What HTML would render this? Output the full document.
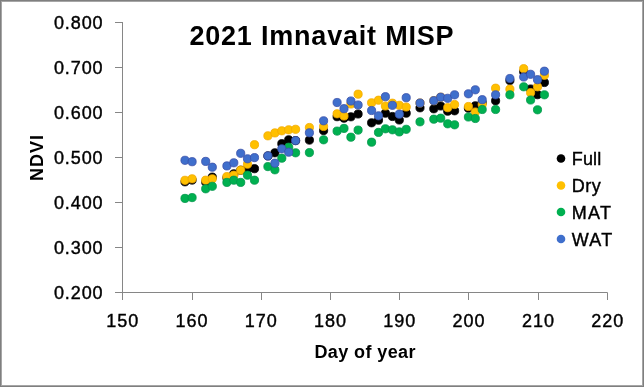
<!DOCTYPE html>
<html><head><meta charset="utf-8"><style>
html,body{margin:0;padding:0;background:#fff;}
body{width:644px;height:387px;overflow:hidden;position:relative;font-family:"Liberation Sans",sans-serif;}
svg{position:absolute;left:0;top:0;will-change:transform;}
text{font-family:"Liberation Sans",sans-serif;}
</style></head><body>
<svg width="644" height="387" viewBox="0 0 644 387">
<rect x="0" y="0" width="644" height="387" fill="#fff"/>
<rect x="0.5" y="0.5" width="643" height="386" fill="none" stroke="#7f7f7f" stroke-width="1"/>
<rect x="1.5" y="1.5" width="641" height="384" fill="none" stroke="#a6a6a6" stroke-width="1"/>
<g stroke="#868686" stroke-width="1" fill="none">
<line x1="122.5" y1="22" x2="122.5" y2="292.5"/>
<line x1="122" y1="292.5" x2="607.5" y2="292.5"/>
<line x1="115" y1="22.5" x2="122.5" y2="22.5"/><line x1="115" y1="67.5" x2="122.5" y2="67.5"/><line x1="115" y1="112.5" x2="122.5" y2="112.5"/><line x1="115" y1="157.5" x2="122.5" y2="157.5"/><line x1="115" y1="202.5" x2="122.5" y2="202.5"/><line x1="115" y1="247.5" x2="122.5" y2="247.5"/><line x1="115" y1="292.5" x2="122.5" y2="292.5"/><line x1="122.5" y1="292.5" x2="122.5" y2="300"/><line x1="192.5" y1="292.5" x2="192.5" y2="300"/><line x1="261.5" y1="292.5" x2="261.5" y2="300"/><line x1="330.5" y1="292.5" x2="330.5" y2="300"/><line x1="399.5" y1="292.5" x2="399.5" y2="300"/><line x1="468.5" y1="292.5" x2="468.5" y2="300"/><line x1="538.5" y1="292.5" x2="538.5" y2="300"/><line x1="607.5" y1="292.5" x2="607.5" y2="300"/>
</g>
<g font-size="18" fill="#000" text-anchor="end" letter-spacing="0.9" stroke="#000" stroke-width="0.4"><text x="103.5" y="29.0">0.800</text><text x="103.5" y="74.0">0.700</text><text x="103.5" y="119.0">0.600</text><text x="103.5" y="164.0">0.500</text><text x="103.5" y="209.0">0.400</text><text x="103.5" y="254.0">0.300</text><text x="103.5" y="299.0">0.200</text></g>
<g font-size="18" fill="#000" text-anchor="middle" letter-spacing="1.0" stroke="#000" stroke-width="0.4"><text x="122.7" y="327">150</text><text x="192.0" y="327">160</text><text x="261.3" y="327">170</text><text x="330.6" y="327">180</text><text x="399.8" y="327">190</text><text x="469.1" y="327">200</text><text x="538.4" y="327">210</text><text x="607.7" y="327">220</text></g>
<text x="321.9" y="45" font-weight="bold" font-size="27" letter-spacing="0.8" text-anchor="middle">2021 Imnavait MISP</text>
<text x="365.2" y="357.7" font-weight="bold" font-size="18" letter-spacing="0.4" text-anchor="middle">Day of year</text>
<text transform="translate(43.2,157.5) rotate(-90)" font-weight="bold" font-size="18" letter-spacing="1.0" text-anchor="middle">NDVI</text>
<g fill="#000000" stroke="#000000" stroke-width="0.8"><circle cx="185.0" cy="181.8" r="4.1"/><circle cx="192.1" cy="180.1" r="4.1"/><circle cx="205.7" cy="182.1" r="4.1"/><circle cx="212.3" cy="177.1" r="4.1"/><circle cx="226.9" cy="177.8" r="4.1"/><circle cx="233.8" cy="173.8" r="4.1"/><circle cx="240.7" cy="170.2" r="4.1"/><circle cx="247.5" cy="169.2" r="4.1"/><circle cx="254.5" cy="168.7" r="4.1"/><circle cx="267.9" cy="155.9" r="4.1"/><circle cx="274.9" cy="152.8" r="4.1"/><circle cx="281.8" cy="143.7" r="4.1"/><circle cx="288.7" cy="139.8" r="4.1"/><circle cx="295.6" cy="140.6" r="4.1"/><circle cx="309.4" cy="140.1" r="4.1"/><circle cx="323.6" cy="130.6" r="4.1"/><circle cx="337.1" cy="116.7" r="4.1"/><circle cx="344.0" cy="118.2" r="4.1"/><circle cx="350.9" cy="116.8" r="4.1"/><circle cx="358.1" cy="114.0" r="4.1"/><circle cx="371.6" cy="122.8" r="4.1"/><circle cx="378.5" cy="120.2" r="4.1"/><circle cx="385.4" cy="113.2" r="4.1"/><circle cx="392.4" cy="116.5" r="4.1"/><circle cx="399.3" cy="120.0" r="4.1"/><circle cx="406.2" cy="113.2" r="4.1"/><circle cx="420.0" cy="107.8" r="4.1"/><circle cx="433.8" cy="108.8" r="4.1"/><circle cx="440.7" cy="106.0" r="4.1"/><circle cx="447.7" cy="111.2" r="4.1"/><circle cx="454.6" cy="110.8" r="4.1"/><circle cx="468.4" cy="108.2" r="4.1"/><circle cx="475.3" cy="105.8" r="4.1"/><circle cx="482.2" cy="102.7" r="4.1"/><circle cx="495.6" cy="100.8" r="4.1"/><circle cx="509.9" cy="80.5" r="4.1"/><circle cx="523.7" cy="71.8" r="4.1"/><circle cx="530.6" cy="89.0" r="4.1"/><circle cx="537.5" cy="94.7" r="4.1"/><circle cx="544.4" cy="82.5" r="4.1"/></g>
<g fill="#FFC000" stroke="#F2AA00" stroke-width="0.8"><circle cx="185.0" cy="180.3" r="4.1"/><circle cx="192.1" cy="178.8" r="4.1"/><circle cx="205.7" cy="180.2" r="4.1"/><circle cx="212.3" cy="178.8" r="4.1"/><circle cx="226.9" cy="176.6" r="4.1"/><circle cx="233.8" cy="175.2" r="4.1"/><circle cx="240.7" cy="170.2" r="4.1"/><circle cx="247.5" cy="164.2" r="4.1"/><circle cx="254.5" cy="144.7" r="4.1"/><circle cx="267.9" cy="135.8" r="4.1"/><circle cx="274.9" cy="132.9" r="4.1"/><circle cx="281.8" cy="130.8" r="4.1"/><circle cx="288.7" cy="129.8" r="4.1"/><circle cx="295.6" cy="129.3" r="4.1"/><circle cx="309.4" cy="127.5" r="4.1"/><circle cx="323.6" cy="126.5" r="4.1"/><circle cx="337.1" cy="113.8" r="4.1"/><circle cx="344.0" cy="116.0" r="4.1"/><circle cx="350.9" cy="104.0" r="4.1"/><circle cx="358.1" cy="94.2" r="4.1"/><circle cx="371.6" cy="102.8" r="4.1"/><circle cx="378.5" cy="100.2" r="4.1"/><circle cx="385.4" cy="106.0" r="4.1"/><circle cx="392.4" cy="103.2" r="4.1"/><circle cx="399.3" cy="105.3" r="4.1"/><circle cx="406.2" cy="107.0" r="4.1"/><circle cx="420.0" cy="103.0" r="4.1"/><circle cx="433.8" cy="100.7" r="4.1"/><circle cx="440.7" cy="97.2" r="4.1"/><circle cx="447.7" cy="107.7" r="4.1"/><circle cx="454.6" cy="104.5" r="4.1"/><circle cx="468.4" cy="106.5" r="4.1"/><circle cx="475.3" cy="112.0" r="4.1"/><circle cx="482.2" cy="104.5" r="4.1"/><circle cx="495.6" cy="88.2" r="4.1"/><circle cx="509.9" cy="89.2" r="4.1"/><circle cx="523.7" cy="68.7" r="4.1"/><circle cx="530.6" cy="92.7" r="4.1"/><circle cx="537.5" cy="86.8" r="4.1"/><circle cx="544.4" cy="75.3" r="4.1"/></g>
<g fill="#00B050" stroke="#00964A" stroke-width="0.8"><circle cx="185.0" cy="198.4" r="4.1"/><circle cx="192.1" cy="197.6" r="4.1"/><circle cx="205.7" cy="188.8" r="4.1"/><circle cx="212.3" cy="186.3" r="4.1"/><circle cx="226.9" cy="182.4" r="4.1"/><circle cx="233.8" cy="180.2" r="4.1"/><circle cx="240.7" cy="182.4" r="4.1"/><circle cx="247.5" cy="175.2" r="4.1"/><circle cx="254.5" cy="180.2" r="4.1"/><circle cx="267.9" cy="166.6" r="4.1"/><circle cx="274.9" cy="169.8" r="4.1"/><circle cx="281.8" cy="158.2" r="4.1"/><circle cx="288.7" cy="147.2" r="4.1"/><circle cx="295.6" cy="152.8" r="4.1"/><circle cx="309.4" cy="152.6" r="4.1"/><circle cx="323.6" cy="139.8" r="4.1"/><circle cx="337.1" cy="131.1" r="4.1"/><circle cx="344.0" cy="128.4" r="4.1"/><circle cx="350.9" cy="137.2" r="4.1"/><circle cx="358.1" cy="130.1" r="4.1"/><circle cx="371.6" cy="142.2" r="4.1"/><circle cx="378.5" cy="132.4" r="4.1"/><circle cx="385.4" cy="128.8" r="4.1"/><circle cx="392.4" cy="129.8" r="4.1"/><circle cx="399.3" cy="131.9" r="4.1"/><circle cx="406.2" cy="129.3" r="4.1"/><circle cx="420.0" cy="121.8" r="4.1"/><circle cx="433.8" cy="119.2" r="4.1"/><circle cx="440.7" cy="118.2" r="4.1"/><circle cx="447.7" cy="123.8" r="4.1"/><circle cx="454.6" cy="124.8" r="4.1"/><circle cx="468.4" cy="117.0" r="4.1"/><circle cx="475.3" cy="118.5" r="4.1"/><circle cx="482.2" cy="109.5" r="4.1"/><circle cx="495.6" cy="109.5" r="4.1"/><circle cx="509.9" cy="94.8" r="4.1"/><circle cx="523.7" cy="86.8" r="4.1"/><circle cx="530.6" cy="100.0" r="4.1"/><circle cx="537.5" cy="109.8" r="4.1"/><circle cx="544.4" cy="94.8" r="4.1"/></g>
<g fill="#3F6FCC" stroke="#3A4FA8" stroke-width="0.8"><circle cx="185.0" cy="160.3" r="4.1"/><circle cx="192.1" cy="161.7" r="4.1"/><circle cx="205.7" cy="161.4" r="4.1"/><circle cx="212.3" cy="167.2" r="4.1"/><circle cx="226.9" cy="165.9" r="4.1"/><circle cx="233.8" cy="162.8" r="4.1"/><circle cx="240.7" cy="153.3" r="4.1"/><circle cx="247.5" cy="158.8" r="4.1"/><circle cx="254.5" cy="157.6" r="4.1"/><circle cx="267.9" cy="155.9" r="4.1"/><circle cx="274.9" cy="163.2" r="4.1"/><circle cx="281.8" cy="148.8" r="4.1"/><circle cx="288.7" cy="152.2" r="4.1"/><circle cx="295.6" cy="140.6" r="4.1"/><circle cx="309.4" cy="132.8" r="4.1"/><circle cx="323.6" cy="120.8" r="4.1"/><circle cx="337.1" cy="102.5" r="4.1"/><circle cx="344.0" cy="108.7" r="4.1"/><circle cx="350.9" cy="101.0" r="4.1"/><circle cx="358.1" cy="105.0" r="4.1"/><circle cx="371.6" cy="110.5" r="4.1"/><circle cx="378.5" cy="115.8" r="4.1"/><circle cx="385.4" cy="96.7" r="4.1"/><circle cx="392.4" cy="105.3" r="4.1"/><circle cx="399.3" cy="114.2" r="4.1"/><circle cx="406.2" cy="97.7" r="4.1"/><circle cx="420.0" cy="103.0" r="4.1"/><circle cx="433.8" cy="100.7" r="4.1"/><circle cx="440.7" cy="97.2" r="4.1"/><circle cx="447.7" cy="98.3" r="4.1"/><circle cx="454.6" cy="94.8" r="4.1"/><circle cx="468.4" cy="93.8" r="4.1"/><circle cx="475.3" cy="89.8" r="4.1"/><circle cx="482.2" cy="99.7" r="4.1"/><circle cx="495.6" cy="94.8" r="4.1"/><circle cx="509.9" cy="78.5" r="4.1"/><circle cx="523.7" cy="77.0" r="4.1"/><circle cx="530.6" cy="74.3" r="4.1"/><circle cx="537.5" cy="79.7" r="4.1"/><circle cx="544.4" cy="71.2" r="4.1"/></g>
<circle cx="561" cy="158.5" r="4.3" fill="#000000"/><text x="571.7" y="165.0" font-size="18" letter-spacing="0.2" stroke="#000" stroke-width="0.4">Full</text><circle cx="561" cy="185.5" r="4.3" fill="#FFC000"/><text x="571.7" y="192.0" font-size="18" letter-spacing="0.5" stroke="#000" stroke-width="0.4">Dry</text><circle cx="561" cy="212" r="4.3" fill="#00B050"/><text x="571.7" y="218.5" font-size="18" letter-spacing="1.3" stroke="#000" stroke-width="0.4">MAT</text><circle cx="561" cy="239" r="4.3" fill="#3F6FCC"/><text x="571.7" y="245.5" font-size="18" letter-spacing="1.3" stroke="#000" stroke-width="0.4">WAT</text>
</svg>
</body></html>
